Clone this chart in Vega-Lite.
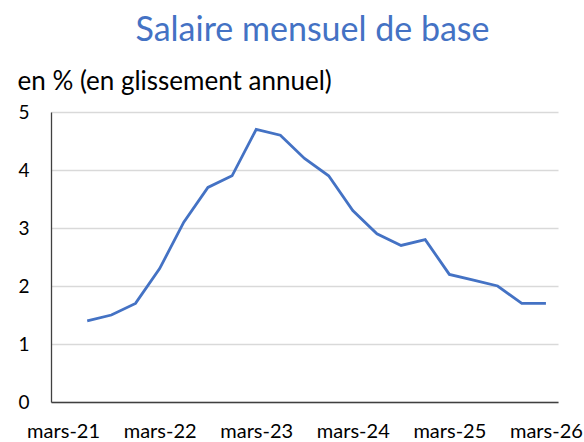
{
  "$schema": "https://vega.github.io/schema/vega-lite/v6.json",
  "width": 507,
  "height": 290,
  "autosize": {"type": "none"},
  "padding": {"left": 51, "top": 112, "right": 26, "bottom": 40},
  "background": "white",
  "config": {"font": "Lato", "view": {"stroke": null}},
  "title": {
    "text": "Salaire mensuel de base",
    "anchor": "middle",
    "frame": "group",
    "dx": 8,
    "baseline": "alphabetic",
    "offset": -7,
    "fontSize": 34,
    "fontWeight": "normal",
    "color": "#4472C4"
  },
  "data": {
    "values": [
      {"trimestre": "juin-21", "valeur": 1.4},
      {"trimestre": "sept-21", "valeur": 1.5},
      {"trimestre": "déc-21", "valeur": 1.7},
      {"trimestre": "mars-22", "valeur": 2.3},
      {"trimestre": "juin-22", "valeur": 3.1},
      {"trimestre": "sept-22", "valeur": 3.7},
      {"trimestre": "déc-22", "valeur": 3.9},
      {"trimestre": "mars-23", "valeur": 4.7},
      {"trimestre": "juin-23", "valeur": 4.6},
      {"trimestre": "sept-23", "valeur": 4.2},
      {"trimestre": "déc-23", "valeur": 3.9},
      {"trimestre": "mars-24", "valeur": 3.3},
      {"trimestre": "juin-24", "valeur": 2.9},
      {"trimestre": "sept-24", "valeur": 2.7},
      {"trimestre": "déc-24", "valeur": 2.8},
      {"trimestre": "mars-25", "valeur": 2.2},
      {"trimestre": "juin-25", "valeur": 2.1},
      {"trimestre": "sept-25", "valeur": 2.0},
      {"trimestre": "déc-25", "valeur": 1.7},
      {"trimestre": "mars-26", "valeur": 1.7}
    ]
  },
  "mark": {"type": "line", "color": "#4472C4", "strokeWidth": 2.8},
  "encoding": {
    "x": {
      "field": "trimestre",
      "type": "ordinal",
      "sort": null,
      "scale": {
        "domain": ["mars-21", "juin-21", "sept-21", "déc-21", "mars-22", "juin-22", "sept-22", "déc-22", "mars-23", "juin-23", "sept-23", "déc-23", "mars-24", "juin-24", "sept-24", "déc-24", "mars-25", "juin-25", "sept-25", "déc-25", "mars-26"],
        "type": "point",
        "padding": 0.5
      },
      "axis": {
        "title": null,
        "labelExpr": "indexof(datum.value, 'mars') == 0 ? datum.value : ''",
        "labelAngle": 0,
        "labelOverlap": false,
        "labelBound": false,
        "ticks": false,
        "grid": false,
        "domainColor": "#404040",
        "domainWidth": 1.3,
        "labelPadding": 35,
        "labelBaseline": "alphabetic",
        "labelFontSize": 20,
        "labelColor": "#000000"
      }
    },
    "y": {
      "field": "valeur",
      "type": "quantitative",
      "scale": {"domain": [0, 5], "nice": false},
      "axis": {
        "title": "en % (en glissement annuel)",
        "titleAngle": 0,
        "titleAlign": "left",
        "titleBaseline": "alphabetic",
        "titleX": -34,
        "titleY": -23,
        "titleFontSize": 26,
        "titleFontWeight": "normal",
        "titleColor": "#000000",
        "values": [0, 1, 2, 3, 4, 5],
        "grid": true,
        "gridColor": "#d9d9d9",
        "gridWidth": 1.3,
        "domainColor": "#404040",
        "domainWidth": 1.3,
        "ticks": false,
        "labelPadding": 22,
        "labelFontSize": 19,
        "labelColor": "#000000"
      }
    }
  }
}
